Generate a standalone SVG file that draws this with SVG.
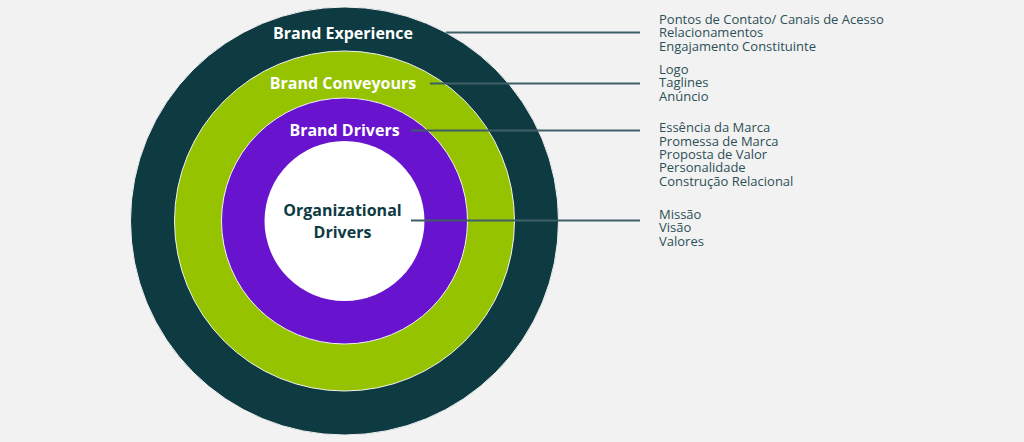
<svg xmlns="http://www.w3.org/2000/svg" width="1024" height="442" viewBox="0 0 1024 442">
<style>
.ring{stroke:#f2f2f2;stroke-width:1}
.lbl{font-family:"Open Sans",Lato,sans-serif;font-weight:bold;font-size:16px;text-anchor:middle}
.item{font-family:"Open Sans",Lato,sans-serif;font-size:13px;fill:#2d4f57}
.conn{stroke:#3f5f66;stroke-width:2;fill:none}
</style>
<rect width="1024" height="442" fill="#f2f2f2"/>
<g id="brand-experience">
<circle class="ring" cx="344.5" cy="221" r="214" fill="#0e3a42"/>
<text class="lbl" x="343" y="38.5" fill="#ffffff">Brand Experience</text>
</g>
<g id="brand-conveyours">
<circle class="ring" cx="344.5" cy="221" r="170" fill="#95c300"/>
<text class="lbl" x="343" y="88.5" fill="#ffffff">Brand Conveyours</text>
</g>
<g id="brand-drivers">
<circle class="ring" cx="344.5" cy="221" r="123" fill="#6813cd"/>
<text class="lbl" x="344.5" y="136" fill="#ffffff">Brand Drivers</text>
</g>
<g id="organizational-drivers">
<circle cx="344.5" cy="221" r="80" fill="#ffffff"/>
<text class="lbl" x="342.5" y="215.5" fill="#0e3a42">Organizational</text>
<text class="lbl" x="342.5" y="238" fill="#0e3a42">Drivers</text>
</g>
<g id="connectors">
<line class="conn" x1="446" y1="32.5" x2="640" y2="32.5"/>
<line class="conn" x1="430" y1="83.5" x2="640" y2="83.5"/>
<line class="conn" x1="411" y1="130.5" x2="640" y2="130.5"/>
<line class="conn" x1="411" y1="220.5" x2="640" y2="220.5"/>
</g>
<g id="list-experience">
<text class="item" x="659" y="24">Pontos de Contato/ Canais de Acesso</text>
<text class="item" x="659" y="37.3">Relacionamentos</text>
<text class="item" x="659" y="50.7">Engajamento Constituinte</text>
</g>
<g id="list-conveyours">
<text class="item" x="659" y="74">Logo</text>
<text class="item" x="659" y="87.3">Taglines</text>
<text class="item" x="659" y="100.7">Anúncio</text>
</g>
<g id="list-drivers">
<text class="item" x="659" y="132.3">Essência da Marca</text>
<text class="item" x="659" y="145.7">Promessa de Marca</text>
<text class="item" x="659" y="159">Proposta de Valor</text>
<text class="item" x="659" y="172.3">Personalidade</text>
<text class="item" x="659" y="185.7">Construção Relacional</text>
</g>
<g id="list-organizational">
<text class="item" x="659" y="219">Missão</text>
<text class="item" x="659" y="232.3">Visão</text>
<text class="item" x="659" y="245.7">Valores</text>
</g>
</svg>
